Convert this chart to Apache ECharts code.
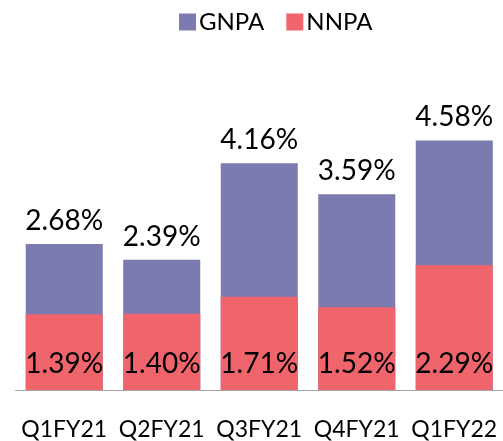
<!DOCTYPE html>
<html><head><meta charset="utf-8">
<script src="https://cdn.jsdelivr.net/npm/echarts@6/dist/echarts.min.js"></script>
<style>html,body{margin:0;padding:0;background:#fff}#c{width:503px;height:441px}</style>
</head><body><div id="c"></div>
<script>
const categories = ['Q1FY21','Q2FY21','Q3FY21','Q4FY21','Q1FY22'];
const gnpa = [2.68, 2.39, 4.16, 3.59, 4.58];
const nnpa = [1.39, 1.40, 1.71, 1.52, 2.29];
const FONT = 'Lato';
const chart = echarts.init(document.getElementById('c'), null, {renderer:'canvas'});
chart.setOption({
  animation:false,
  legend:{top:5,left:174,itemWidth:17,itemHeight:17,itemGap:22,icon:'rect',
    textStyle:{fontFamily:FONT,fontSize:24,color:'#000',padding:[0,0,0,-2]},
    data:['GNPA','NNPA']},
  grid:{left:15.5,right:-0.5,top:117.5,bottom:51,containLabel:false},
  xAxis:{type:'category',data:categories,
    axisLine:{lineStyle:{color:'#A6A6A6',width:1}},axisTick:{show:false},
    axisLabel:{interval:0,fontFamily:FONT,fontSize:23,color:'#000',margin:28}},
  yAxis:{type:'value',min:0,max:5,show:false,splitLine:{show:false}},
  series:[
    {name:'GNPA',type:'bar',data:gnpa,barWidth:'79%',barGap:'-100%',
      itemStyle:{color:'#7B7BAF'},
      label:{show:true,position:'top',distance:9,formatter:p=>p.value.toFixed(2)+'%',
        fontFamily:FONT,fontSize:28,color:'#000'}},
    {name:'NNPA',type:'bar',data:nnpa,barWidth:'79%',barGap:'-100%',
      itemStyle:{color:'#F0646B'},
      label:{show:true,position:'insideBottom',distance:12,formatter:p=>p.value.toFixed(2)+'%',
        fontFamily:FONT,fontSize:28,color:'#000'}}
  ]
});
</script></body></html>
